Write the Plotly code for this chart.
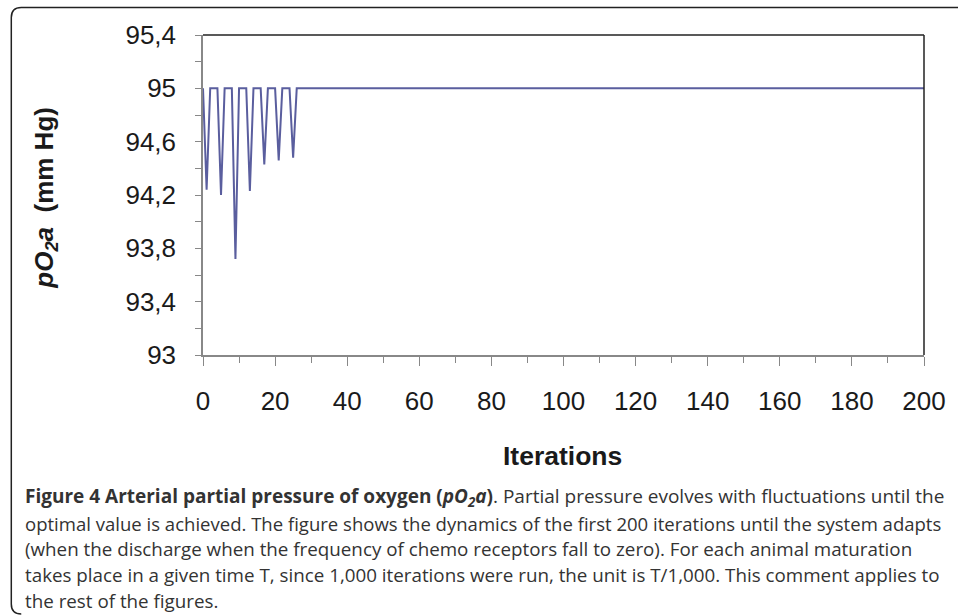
import plotly.graph_objects as go

# ---- data ----
iterations = [0, 1, 2, 3, 4, 5, 6, 7, 8, 9, 10, 11, 12, 13, 14, 15, 16, 17, 18, 19, 20, 21, 22, 23, 24, 25, 26, 200]
po2a = [95, 94.24, 95, 95, 95, 94.2, 95, 95, 95, 93.72, 95, 95, 95, 94.23, 95, 95, 95, 94.43, 95, 95, 95, 94.46, 95, 95, 95, 94.48, 95, 95]
y_tickvals = [93, 93.4, 93.8, 94.2, 94.6, 95, 95.4]
y_ticktext = ["93", "93,4", "93,8", "94,2", "94,6", "95", "95,4"]
x_tickvals = [0, 20, 40, 60, 80, 100, 120, 140, 160, 180, 200]

caption_lines = [
    "<b>Figure 4 Arterial partial pressure of oxygen (<i>pO<sub>2</sub>a</i>)</b>. Partial pressure evolves with fluctuations until the",
    "optimal value is achieved. The figure shows the dynamics of the first 200 iterations until the system adapts",
    "(when the discharge when the frequency of chemo receptors fall to zero). For each animal maturation",
    "takes place in a given time T, since 1,000 iterations were run, the unit is T/1,000. This comment applies to",
    "the rest of the figures.",
]

W, H = 958, 615
L, R, T, B = 203, 927, 35, 355

def px(xp):
    return (xp - L) / (R - L)

def py(yp):
    return (B - yp) / (B - T)

fig = go.Figure()
fig.add_trace(go.Scatter(x=iterations, y=po2a, mode="lines",
                         line=dict(color="#5a5e9e", width=2), showlegend=False))

axis_font = dict(family="Liberation Sans, Arial", size=26, color="#1a1a1a")

fig.update_layout(
    width=W, height=H,
    margin=dict(l=L, r=W - R, t=T, b=H - B),
    paper_bgcolor="white", plot_bgcolor="white",
    xaxis=dict(range=[0, 200], tickvals=x_tickvals, ticks="outside", ticklen=9,
               tickcolor="#888", showline=True, linecolor="#888", linewidth=1.5,
               showgrid=False, zeroline=False, tickfont=axis_font,
               ticklabelstandoff=13,
               minor=dict(dtick=10, ticks="outside", ticklen=6, tickcolor="#888")),
    yaxis=dict(range=[93, 95.4], tickvals=y_tickvals, ticktext=y_ticktext,
               ticks="outside", ticklen=6, tickcolor="#888", showline=True,
               linecolor="#888", linewidth=1.5, showgrid=False, zeroline=False,
               tickfont=axis_font, ticklabelstandoff=14,
               minor=dict(tickvals=[93.2, 93.6, 94.0, 94.4, 94.8, 95.2],
                          ticks="outside", ticklen=6, tickcolor="#888")),
)

shapes = []
# top & right black borders of plot area
shapes.append(dict(type="line", xref="paper", yref="paper", x0=0, x1=1, y0=1, y1=1,
                   line=dict(color="#222", width=1.5)))
shapes.append(dict(type="line", xref="paper", yref="paper", x0=1, x1=1, y0=0, y1=1,
                   line=dict(color="#222", width=1.5)))
# outer rounded frame (open to the right / bottom edge of the picture)
x0, y0, r = 10.5, 7.5, 10
ybot = 614
path = (f"M {px(W + 5)},{py(y0)} L {px(x0 + r)},{py(y0)} "
        f"Q {px(x0)},{py(y0)} {px(x0)},{py(y0 + r)} "
        f"L {px(x0)},{py(ybot - r)} Q {px(x0)},{py(ybot)} {px(x0 + r)},{py(ybot)}")
shapes.append(dict(type="path", xref="paper", yref="paper", path=path,
                   line=dict(color="#222", width=1.5)))
fig.update_layout(shapes=shapes)

ann = []
ann.append(dict(text="<b><i>pO<sub>2</sub>a</i>  (mm Hg)</b>", textangle=-90,
                xref="paper", yref="paper", x=px(44), y=py(198),
                xanchor="center", yanchor="middle", showarrow=False,
                font=dict(family="Liberation Sans, Arial", size=26, color="#1a1a1a")))
ann.append(dict(text="<b>Iterations</b>", xref="paper", yref="paper",
                x=px(564), y=py(456), xanchor="center", yanchor="middle",
                showarrow=False,
                font=dict(family="Liberation Sans, Arial", size=26.5, color="#1a1a1a")))
line_y = [497, 523, 549, 575, 601]
line_sizes = [19.0, 18.55, 18.8, 18.8, 18.8]
for t, yy, fs in zip(caption_lines, line_y, line_sizes):
    ann.append(dict(text=t, xref="paper", yref="paper", x=px(22), y=py(yy),
                    xanchor="left", yanchor="middle", showarrow=False, align="left",
                    font=dict(family="Open Sans", size=fs, color="#333")))
fig.update_layout(annotations=ann)

fig.write_html("out.html")
